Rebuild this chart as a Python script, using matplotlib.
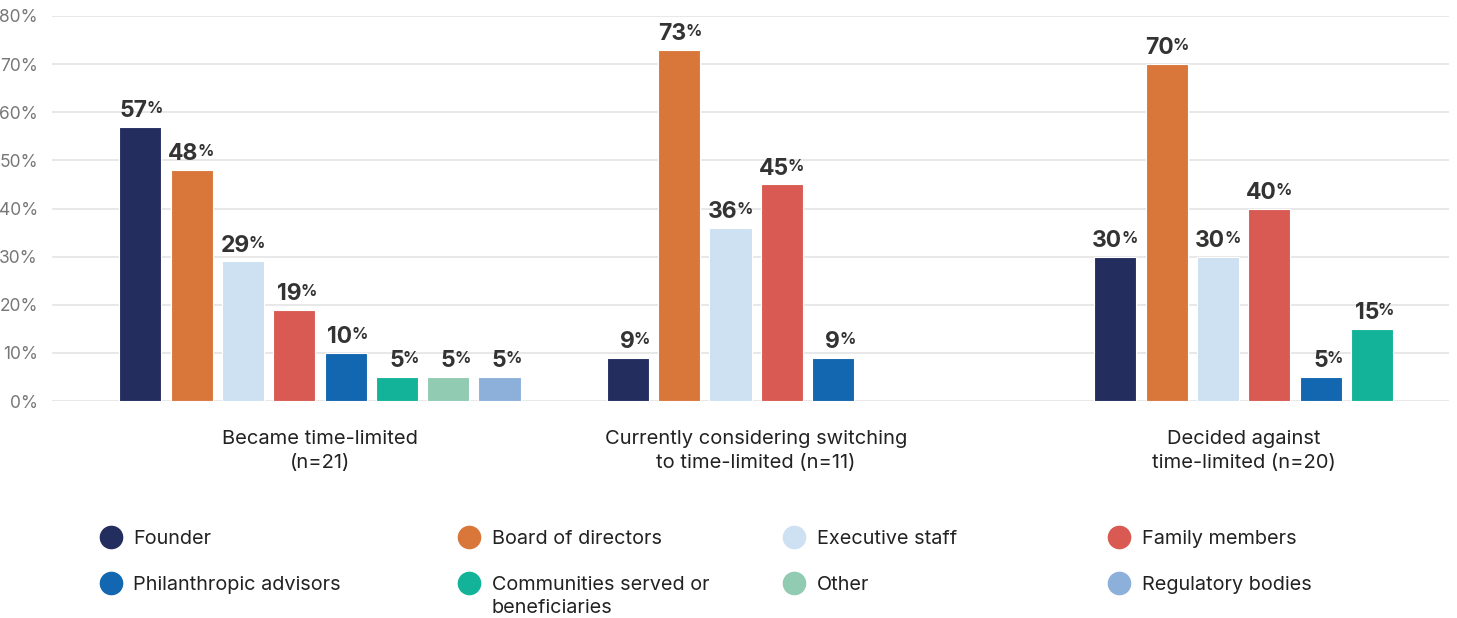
import matplotlib.pyplot as plt
from matplotlib.lines import Line2D
import numpy as np

plt.rcParams['font.family'] = ['Inter', 'DejaVu Sans']

groups = ["Became time-limited\n(n=21)",
          "Currently considering switching\nto time-limited (n=11)",
          "Decided against\ntime-limited (n=20)"]
roles = ["Founder", "Board of directors", "Executive staff", "Family members",
         "Philanthropic advisors", "Communities served or\nbeneficiaries", "Other",
         "Regulatory bodies"]
colors = ["#232d5e", "#d9773b", "#cde1f2", "#d85a52",
          "#1366b0", "#12b398", "#90cbb2", "#8db0da"]

# one list per group, None = no bar
became = [57, 48, 29, 19, 10, 5, 5, 5]
considering = [9, 73, 36, 45, 9, None, None, None]
decided = [30, 70, 30, 40, 5, 15, None, None]
values = [became, considering, decided]
group_start = [0, 9.5, 19]
group_slots = [8, 6, 6]

fig = plt.figure(figsize=(14.57, 6.18), dpi=100)
ax = fig.add_axes([52 / 1457, 1 - 401 / 618, (1449 - 52) / 1457, 385 / 618])

for g, vals in enumerate(values):
    for i, v in enumerate(vals):
        if v is None:
            continue
        x = group_start[g] + i
        ax.bar(x, v, width=0.82, color=colors[i], edgecolor="white",
               linewidth=0.8, zorder=3)
        ax.annotate(str(v), (x, v), xytext=(5, 7), textcoords="offset points",
                    ha="right", va="baseline", fontsize=16.5, fontweight="bold",
                    color="#333333")
        ax.annotate("%", (x, v), xytext=(4.3, 10), textcoords="offset points",
                    ha="left", va="baseline", fontsize=11.5, fontweight="bold",
                    color="#333333")

centers = [s + (n - 1) / 2 for s, n in zip(group_start, group_slots)]
ax.set_xticks(centers)
ax.set_xticklabels(groups, fontsize=14.5, color="#222222", linespacing=1.45)
ax.tick_params(axis="x", length=0, pad=21)

ax.set_ylim(0, 80)
ax.set_xlim(-1.72, 25.5)
ax.set_yticks(np.arange(0, 81, 10))
ax.set_yticklabels([f"{t}%" for t in range(0, 81, 10)], fontsize=12.5,
                   color="#777777")
ax.tick_params(axis="y", length=0, pad=10)
ax.yaxis.grid(True, color="#e4e4e4", linewidth=1.2, zorder=0)
for s in ax.spines.values():
    s.set_visible(False)

# legend drawn by hand, 4 columns x 2 rows
circ_x = [111, 469, 794, 1119]
text_x = [133, 492, 817, 1142]
row_y = [537, 583]
for k, name in enumerate(roles):
    r, c = divmod(k, 4)
    fig.add_artist(Line2D([circ_x[c] / 1457], [1 - row_y[r] / 618],
                          marker="o", markersize=16, color=colors[k],
                          linestyle="none", transform=fig.transFigure))
    first, *rest = name.split("\n")
    fig.text(text_x[c] / 1457, 1 - (row_y[r] + 7) / 618, first, fontsize=14.3,
             color="#222222", ha="left", va="baseline")
    for j, line in enumerate(rest, 1):
        fig.text(text_x[c] / 1457, 1 - (row_y[r] + 7 + 23 * j) / 618, line,
                 fontsize=14.3, color="#222222", ha="left", va="baseline")

fig.savefig("out.png", dpi=100)
